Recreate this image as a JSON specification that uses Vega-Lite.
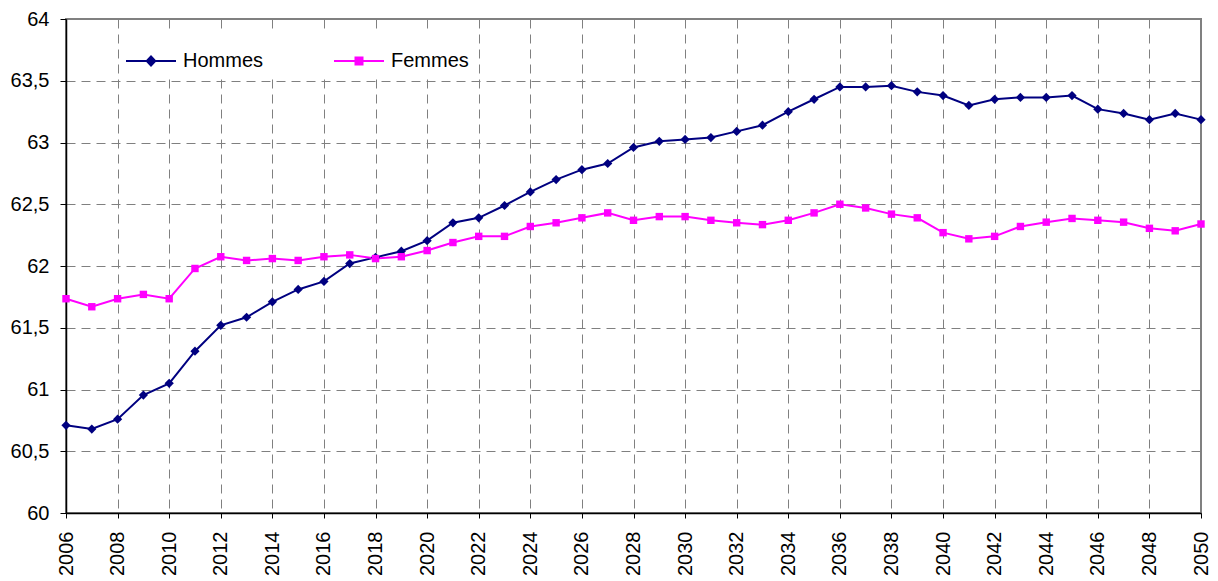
{
  "$schema": "https://vega.github.io/schema/vega-lite/v6.json",
  "autosize": "none",
  "width": 1135,
  "height": 494,
  "padding": {"left": 66, "top": 19, "right": 17, "bottom": 68},
  "background": "white",
  "config": {
    "font": "Liberation Sans",
    "view": {"stroke": "#808080", "strokeWidth": 2},
    "axis": {
      "labelFont": "Liberation Sans",
      "labelFontSize": 20,
      "labelColor": "#000000",
      "domainColor": "#000000",
      "domainWidth": 1.5,
      "tickColor": "#000000",
      "tickWidth": 1,
      "gridColor": "#808080",
      "gridWidth": 1,
      "gridDash": [9, 6],
      "title": null
    }
  },
  "datasets": {
    "age": [
      {"year": 2006, "series": "Hommes", "value": 60.71}, {"year": 2007, "series": "Hommes", "value": 60.68},
      {"year": 2008, "series": "Hommes", "value": 60.76}, {"year": 2009, "series": "Hommes", "value": 60.955},
      {"year": 2010, "series": "Hommes", "value": 61.05}, {"year": 2011, "series": "Hommes", "value": 61.31},
      {"year": 2012, "series": "Hommes", "value": 61.52}, {"year": 2013, "series": "Hommes", "value": 61.585},
      {"year": 2014, "series": "Hommes", "value": 61.71}, {"year": 2015, "series": "Hommes", "value": 61.81},
      {"year": 2016, "series": "Hommes", "value": 61.875}, {"year": 2017, "series": "Hommes", "value": 62.02},
      {"year": 2018, "series": "Hommes", "value": 62.07}, {"year": 2019, "series": "Hommes", "value": 62.12},
      {"year": 2020, "series": "Hommes", "value": 62.205}, {"year": 2021, "series": "Hommes", "value": 62.35},
      {"year": 2022, "series": "Hommes", "value": 62.39}, {"year": 2023, "series": "Hommes", "value": 62.49},
      {"year": 2024, "series": "Hommes", "value": 62.6}, {"year": 2025, "series": "Hommes", "value": 62.7},
      {"year": 2026, "series": "Hommes", "value": 62.78}, {"year": 2027, "series": "Hommes", "value": 62.83},
      {"year": 2028, "series": "Hommes", "value": 62.96}, {"year": 2029, "series": "Hommes", "value": 63.01},
      {"year": 2030, "series": "Hommes", "value": 63.025}, {"year": 2031, "series": "Hommes", "value": 63.04},
      {"year": 2032, "series": "Hommes", "value": 63.09}, {"year": 2033, "series": "Hommes", "value": 63.14},
      {"year": 2034, "series": "Hommes", "value": 63.25}, {"year": 2035, "series": "Hommes", "value": 63.35},
      {"year": 2036, "series": "Hommes", "value": 63.45}, {"year": 2037, "series": "Hommes", "value": 63.45},
      {"year": 2038, "series": "Hommes", "value": 63.46}, {"year": 2039, "series": "Hommes", "value": 63.41},
      {"year": 2040, "series": "Hommes", "value": 63.38}, {"year": 2041, "series": "Hommes", "value": 63.3},
      {"year": 2042, "series": "Hommes", "value": 63.35}, {"year": 2043, "series": "Hommes", "value": 63.365},
      {"year": 2044, "series": "Hommes", "value": 63.365}, {"year": 2045, "series": "Hommes", "value": 63.38},
      {"year": 2046, "series": "Hommes", "value": 63.27}, {"year": 2047, "series": "Hommes", "value": 63.235},
      {"year": 2048, "series": "Hommes", "value": 63.185}, {"year": 2049, "series": "Hommes", "value": 63.235},
      {"year": 2050, "series": "Hommes", "value": 63.185},
      {"year": 2006, "series": "Femmes", "value": 61.735}, {"year": 2007, "series": "Femmes", "value": 61.67},
      {"year": 2008, "series": "Femmes", "value": 61.735}, {"year": 2009, "series": "Femmes", "value": 61.77},
      {"year": 2010, "series": "Femmes", "value": 61.735}, {"year": 2011, "series": "Femmes", "value": 61.98},
      {"year": 2012, "series": "Femmes", "value": 62.075}, {"year": 2013, "series": "Femmes", "value": 62.045},
      {"year": 2014, "series": "Femmes", "value": 62.06}, {"year": 2015, "series": "Femmes", "value": 62.045},
      {"year": 2016, "series": "Femmes", "value": 62.075}, {"year": 2017, "series": "Femmes", "value": 62.09},
      {"year": 2018, "series": "Femmes", "value": 62.06}, {"year": 2019, "series": "Femmes", "value": 62.075},
      {"year": 2020, "series": "Femmes", "value": 62.125}, {"year": 2021, "series": "Femmes", "value": 62.19},
      {"year": 2022, "series": "Femmes", "value": 62.24}, {"year": 2023, "series": "Femmes", "value": 62.24},
      {"year": 2024, "series": "Femmes", "value": 62.32}, {"year": 2025, "series": "Femmes", "value": 62.35},
      {"year": 2026, "series": "Femmes", "value": 62.39}, {"year": 2027, "series": "Femmes", "value": 62.43},
      {"year": 2028, "series": "Femmes", "value": 62.37}, {"year": 2029, "series": "Femmes", "value": 62.4},
      {"year": 2030, "series": "Femmes", "value": 62.4}, {"year": 2031, "series": "Femmes", "value": 62.37},
      {"year": 2032, "series": "Femmes", "value": 62.35}, {"year": 2033, "series": "Femmes", "value": 62.335},
      {"year": 2034, "series": "Femmes", "value": 62.37}, {"year": 2035, "series": "Femmes", "value": 62.43},
      {"year": 2036, "series": "Femmes", "value": 62.5}, {"year": 2037, "series": "Femmes", "value": 62.47},
      {"year": 2038, "series": "Femmes", "value": 62.42}, {"year": 2039, "series": "Femmes", "value": 62.39},
      {"year": 2040, "series": "Femmes", "value": 62.27}, {"year": 2041, "series": "Femmes", "value": 62.22},
      {"year": 2042, "series": "Femmes", "value": 62.24}, {"year": 2043, "series": "Femmes", "value": 62.32},
      {"year": 2044, "series": "Femmes", "value": 62.355}, {"year": 2045, "series": "Femmes", "value": 62.385},
      {"year": 2046, "series": "Femmes", "value": 62.37}, {"year": 2047, "series": "Femmes", "value": 62.355},
      {"year": 2048, "series": "Femmes", "value": 62.305}, {"year": 2049, "series": "Femmes", "value": 62.285},
      {"year": 2050, "series": "Femmes", "value": 62.34}
    ]
  },
  "data": {"name": "age"},
  "encoding": {
    "x": {
      "field": "year",
      "type": "quantitative",
      "scale": {"domain": [2006, 2050], "nice": false, "zero": false},
      "axis": {
        "values": [2006, 2008, 2010, 2012, 2014, 2016, 2018, 2020, 2022, 2024, 2026, 2028, 2030, 2032, 2034, 2036, 2038, 2040, 2042, 2044, 2046, 2048, 2050],
        "format": "d",
        "labelAngle": -90,
        "labelAlign": "right",
        "labelBaseline": "middle",
        "tickSize": 5,
        "labelPadding": 13,
        "labelOverlap": false,
        "labelFlush": false
      }
    },
    "y": {
      "field": "value",
      "type": "quantitative",
      "scale": {"domain": [60, 64], "nice": false, "zero": false},
      "axis": {
        "values": [60, 60.5, 61, 61.5, 62, 62.5, 63, 63.5, 64],
        "labelExpr": "replace(format(datum.value, ''), '.', ',')",
        "tickSize": 6,
        "labelPadding": 11,
        "labelFlush": false
      }
    },
    "color": {
      "field": "series",
      "type": "nominal",
      "scale": {"domain": ["Hommes", "Femmes"], "range": ["#000080", "#FF00FF"]},
      "legend": {
        "orient": "none",
        "legendX": 53,
        "legendY": 10,
        "direction": "horizontal",
        "title": null,
        "labelFont": "Liberation Sans",
        "labelFontSize": 20,
        "labelColor": "#000000",
        "symbolSize": 2500,
        "symbolStrokeWidth": 2,
        "labelOffset": 6,
        "columnPadding": 66,
        "padding": 6,
        "fillColor": "white",
        "strokeColor": null,
        "encode": {
          "symbols": {
            "update": {
              "shape": {"signal": "datum.value === 'Hommes' ? 'M-1,0L1,0M0,-0.18L0.17,0L0,0.18L-0.17,0Z' : 'M-1,0L1,0M-0.14,-0.14L0.14,-0.14L0.14,0.14L-0.14,0.14Z'"},
              "fill": {"signal": "scale('color', datum.value)"},
              "stroke": {"signal": "scale('color', datum.value)"},
              "strokeWidth": {"value": 2},
              "opacity": {"value": 1}
            }
          }
        }
      }
    }
  },
  "layer": [
    {"mark": {"type": "line", "strokeWidth": 2}},
    {
      "mark": {
        "type": "point",
        "filled": true,
        "opacity": 1,
        "shape": {"expr": "datum.series === 'Hommes' ? 'diamond' : 'square'"},
        "size": {"expr": "datum.series === 'Hommes' ? 85 : 55"}
      }
    }
  ]
}
